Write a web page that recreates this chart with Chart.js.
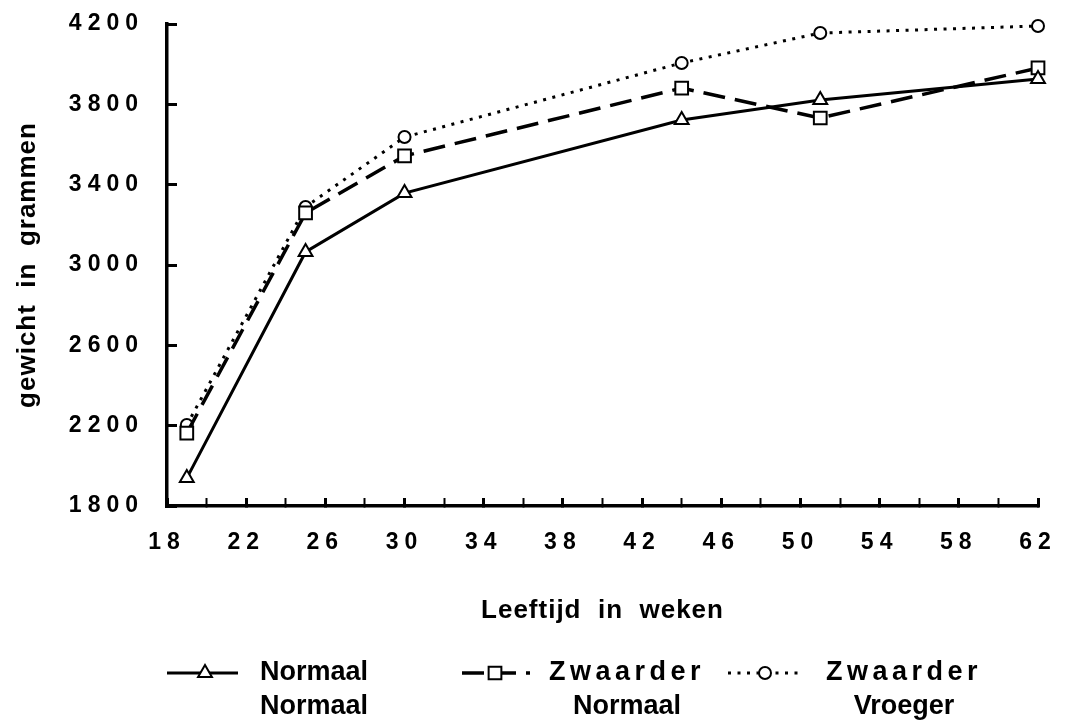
<!DOCTYPE html>
<html>
<head>
<meta charset="utf-8">
<script src="https://cdn.jsdelivr.net/npm/chart.js@4/dist/chart.umd.min.js"></script>
<style>
  html, body { margin: 0; padding: 0; background: #fff; }
  #wrap { width: 1071px; height: 721px; }
</style>
</head>
<body>
<div id="wrap"><canvas id="weightChart" width="1071" height="721"></canvas></div>
<script>
(function () {
  'use strict';

  // ── Data ────────────────────────────────────────────────────────────────────
  const weeks           = [19, 25, 30, 44, 51, 62];
  const normaalNormaal  = [1939, 3065, 3358, 3722, 3822, 3926];
  const zwaarderNormaal = [2163, 3259, 3543, 3881, 3732, 3981];
  const zwaarderVroeger = [2203, 3289, 3637, 4006, 4155, 4190];
  const seriesNames     = [['Normaal', 'Normaal'], ['Zwaarder', 'Normaal'], ['Zwaarder', 'Vroeger']];
  const xTicks          = [18, 22, 26, 30, 34, 38, 42, 46, 50, 54, 58, 62];
  const yTicks          = [1800, 2200, 2600, 3000, 3400, 3800, 4200];

  const FONT = '"Liberation Sans", Arial, Helvetica, sans-serif';
  const pts  = vals => weeks.map((w, i) => ({ x: w, y: vals[i] }));

  // ── Letter spacing: titles tight, tick labels wide ─────────────────────────
  const spacing = {
    id: 'spacing',
    beforeDraw(chart)        { chart.ctx.letterSpacing = '1px'; },
    afterDatasetsDraw(chart) { chart.ctx.letterSpacing = '6px'; },
    afterDraw(chart)         { chart.ctx.letterSpacing = '0px'; }
  };

  // ── Legend drawn below the axis title (two-line labels) ────────────────────
  const legendPos = [
    { x1: 167, x2: 238, marker: 205, textX: 314, y: 673, ls: ['0px', '0px'] },
    { x1: 462, x2: 530, marker: 495, textX: 627, y: 673, ls: ['4.5px', '0px'] },
    { x1: 728, x2: 800, marker: 765, textX: 904, y: 673, ls: ['4.5px', '0px'] }
  ];

  const bottomLegend = {
    id: 'bottomLegend',
    afterDraw(chart) {
      const ctx = chart.ctx;
      chart.data.datasets.forEach((ds, i) => {
        const p = legendPos[i];
        ctx.save();
        ctx.strokeStyle = '#000';
        ctx.lineWidth = ds.borderWidth;
        ctx.setLineDash(ds.borderDash || []);
        ctx.beginPath(); ctx.moveTo(p.x1, p.y); ctx.lineTo(p.x2, p.y); ctx.stroke();
        ctx.setLineDash([]);
        ctx.fillStyle = '#fff';
        ctx.lineWidth = ds.pointBorderWidth;
        Chart.helpers.drawPoint(ctx, { pointStyle: ds.pointStyle, radius: ds.pointRadius, borderWidth: ds.pointBorderWidth, rotation: 0 }, p.marker, p.y);
        ctx.fillStyle = '#000';
        ctx.textAlign = 'center';
        ctx.textBaseline = 'middle';
        ctx.font = 'bold 27px ' + FONT;
        seriesNames[i].forEach((txt, j) => {
          ctx.letterSpacing = p.ls[j];
          ctx.fillText(txt, p.textX, p.y + j * 34);
        });
        ctx.restore();
      });
    }
  };

  const lineDefaults = {
    borderColor: '#000',
    pointBorderColor: '#000',
    pointBackgroundColor: '#fff',
    pointBorderWidth: 2,
    pointHoverRadius: 7,
    tension: 0,
    clip: false
  };

  new Chart(document.getElementById('weightChart'), {
    type: 'line',
    data: {
      datasets: [
        Object.assign({}, lineDefaults, {
          label: seriesNames[0].join(' '),
          data: pts(normaalNormaal),
          borderWidth: 3,
          pointStyle: 'triangle',
          pointRadius: 8
        }),
        Object.assign({}, lineDefaults, {
          label: seriesNames[1].join(' '),
          data: pts(zwaarderNormaal),
          borderWidth: 3.5,
          borderDash: [22, 10],
          pointStyle: 'rect',
          pointRadius: 9
        }),
        Object.assign({}, lineDefaults, {
          label: seriesNames[2].join(' '),
          data: pts(zwaarderVroeger),
          borderWidth: 3,
          borderDash: [3, 6.5],
          pointStyle: 'circle',
          pointRadius: 6
        })
      ]
    },
    options: {
      responsive: false,
      devicePixelRatio: 1,
      animation: false,
      layout: { padding: { left: 0, top: 24, right: 33, bottom: 85 } },
      plugins: {
        legend: { display: false },
        tooltip: { enabled: false }
      },
      scales: {
        x: {
          type: 'linear',
          min: xTicks[0],
          max: xTicks[xTicks.length - 1],
          afterFit(scale) {
            scale.height = 130;
            scale.paddingLeft = 0;
            scale.paddingRight = 0;
          },
          border: { color: '#000', width: 3.5 },
          grid: {
            drawOnChartArea: false,
            drawTicks: true,
            tickLength: -8,
            color: '#000',
            tickWidth: ctx => (xTicks.includes(ctx.tick && ctx.tick.value) ? 3 : 2)
          },
          ticks: {
            stepSize: 2,
            autoSkip: false,
            maxRotation: 0,
            padding: 31,
            z: 1,
            color: '#000',
            font: { family: FONT, size: 23, weight: 'bold', lineHeight: 1.2 },
            callback: v => (xTicks.includes(v) ? String(v) : '')
          },
          title: {
            display: true,
            text: 'Leeftijd  in  weken',
            color: '#000',
            padding: { top: 0, bottom: 10 },
            font: { family: FONT, size: 26, weight: 'bold', lineHeight: 1.2 }
          }
        },
        y: {
          min: yTicks[0],
          max: yTicks[yTicks.length - 1],
          afterFit(scale) {
            scale.width = 167;
            scale.paddingTop = 0;
            scale.paddingBottom = 0;
          },
          afterBuildTicks(scale) { scale.ticks = yTicks.map(v => ({ value: v })); },
          border: { color: '#000', width: 3.5 },
          grid: {
            drawOnChartArea: false,
            drawTicks: true,
            tickLength: -10,
            tickWidth: 3,
            color: '#000'
          },
          ticks: {
            padding: 33,
            z: 1,
            color: '#000',
            font: { family: FONT, size: 23, weight: 'bold', lineHeight: 1.2 },
            callback: v => String(v)
          },
          title: {
            display: true,
            text: 'gewicht  in  grammen',
            color: '#000',
            padding: { top: 12, bottom: 0 },
            font: { family: FONT, size: 26, weight: 'bold', lineHeight: 1.2 }
          }
        }
      }
    },
    plugins: [spacing, bottomLegend]
  });
})();
</script>
</body>
</html>
